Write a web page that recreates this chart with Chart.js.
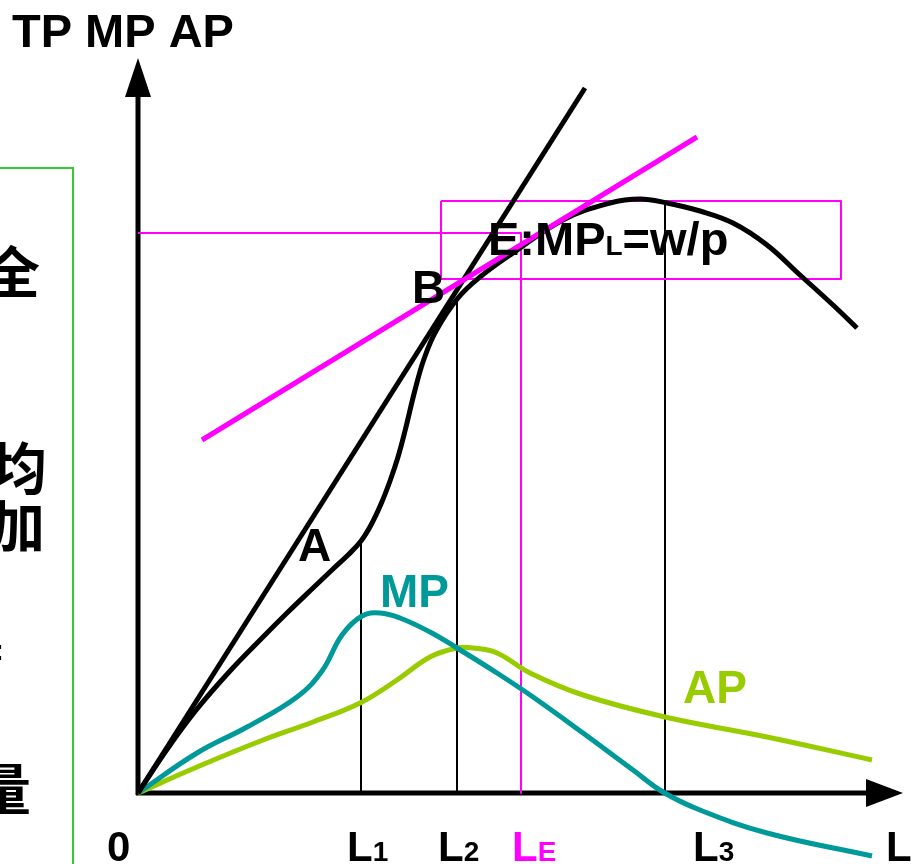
<!DOCTYPE html>
<html>
<head>
<meta charset="utf-8">
<script src="https://cdn.jsdelivr.net/npm/chart.js@4"></script>
<style>
    body { margin: 0; background: #fff; }
    #wrap { width: 911px; height: 864px; position: relative; }
</style>
</head>
<body>
<div id="wrap"><canvas id="productionChart"></canvas></div>
<script>
const tpCurve = [
    [0, 0], [30, 45], [59, 84], [92, 122], [125, 156], [150, 181], [175, 205],
    [195, 224], [210, 238], [223, 252], [233, 268], [243, 289], [252, 312],
    [260, 336], [267, 362], [277, 403], [286, 434], [298, 462], [320, 495],
    [342, 516], [375, 540], [425, 573], [472, 590], [502, 594], [529, 590],
    [562, 582], [595, 570], [629, 548], [662, 518], [695, 488], [719, 465]
];
const mpCurve = [
    [0, 0], [59, 40], [109, 66], [159, 96], [184, 122], [204, 158], [224, 177],
    [242, 180], [262, 175], [292, 161], [319, 145], [359, 120], [395, 96],
    [445, 60], [495, 23], [525, 1], [562, -17], [629, -40], [734, -63]
];
const apCurve = [
    [0, 0], [59, 26], [125, 53], [175, 71], [222, 90], [259, 113], [292, 136],
    [319, 145], [335, 145], [359, 140], [392, 120], [445, 98], [527, 76],
    [629, 56], [734, 33]
];
const rayLine = [[0, 0], [447, 705]];          // ray from origin touching TP at B
const wageLine = [[64, 353], [559, 656]];      // slope w/p, tangent to TP at E
const wageGuide = [[0, 560], [383, 560], [383, 0]];
const labelBox = [[303, 592], [703, 592], [703, 514], [303, 514], [303, 592]];

const L1 = 223, L2 = 319, L3 = 527;
const dropLines = [
    [[L1, 0], [L1, 252]],
    [[L2, 0], [L2, 495]],
    [[L3, 0], [L3, 590]]
];

const xMin = -138, xMax = 773, yMin = -71, yMax = 793;
const yAxisTop = 735, xAxisEnd = 765;

const TEAL = '#009999', LIME = '#99cc00', MAGENTA = '#ff00ff', BOX_GREEN = '#33cc33';
const LATIN = '"Liberation Sans", Arial, sans-serif';
const CJK = '"Noto Sans CJK SC", sans-serif';

// text runs: [text, font size]
const labels = [
    { x: -126, y: 746, color: '#000', runs: [['TP MP AP', 47]] },
    { x: 160, y: 232, color: '#000', runs: [['A', 46]] },
    { x: 242, y: 186, color: TEAL, runs: [['MP', 46]] },
    { x: 274, y: 490, color: '#000', runs: [['B', 46]] },
    { x: 350, y: 538, color: '#000', runs: [['E:MP', 47], ['L', 28], ['=w/p', 47]] },
    { x: 545, y: 90, color: LIME, runs: [['AP', 46]] },
    { x: -31, y: -68, color: '#000', runs: [['0', 42]] },
    { x: 209, y: -68, color: '#000', runs: [['L', 42], ['1', 28]] },
    { x: 300, y: -68, color: '#000', runs: [['L', 42], ['2', 28]] },
    { x: 374, y: -68, color: MAGENTA, runs: [['L', 42], ['E', 28]] },
    { x: 555, y: -68, color: '#000', runs: [['L', 42], ['3', 28]] },
    { x: 748, y: -68, color: '#000', runs: [['L', 42]] }
];

// cut-off text of the side panel: [char, right edge x, baseline y, size]
const sideText = [
    ['全', -98, 500, 56],
    ['均', -91, 304, 56],
    ['加', -93, 246, 56],
    [':', -134, 133, 30],
    ['量', -107, -17, 56]
];

function toPoints(arr) {
    return arr.map(p => ({ x: p[0], y: p[1] }));
}

function lineSet(points, color, width, smooth) {
    return {
        data: toPoints(points),
        showLine: true,
        borderColor: color,
        borderWidth: width,
        borderCapStyle: 'butt',
        borderJoinStyle: 'round',
        pointRadius: 0,
        fill: false,
        clip: false,
        tension: smooth ? 0.4 : 0
    };
}

const axesPlugin = {
    id: 'axes',
    beforeDatasetsDraw(chart) {
        const ctx = chart.ctx;
        const xs = chart.scales.x, ys = chart.scales.y;
        const ox = xs.getPixelForValue(0), oy = ys.getPixelForValue(0);
        const top = ys.getPixelForValue(yAxisTop);
        const right = xs.getPixelForValue(xAxisEnd);
        ctx.save();
        ctx.strokeStyle = '#000';
        ctx.fillStyle = '#000';
        ctx.lineWidth = 5;
        ctx.beginPath();
        ctx.moveTo(ox, oy + 2);
        ctx.lineTo(ox, top + 36);
        ctx.moveTo(ox - 2, oy);
        ctx.lineTo(right - 36, oy);
        ctx.stroke();
        ctx.beginPath();
        ctx.moveTo(ox, top);
        ctx.lineTo(ox - 13, top + 39);
        ctx.lineTo(ox + 13, top + 39);
        ctx.closePath();
        ctx.fill();
        ctx.beginPath();
        ctx.moveTo(right, oy);
        ctx.lineTo(right - 37, oy - 14);
        ctx.lineTo(right - 37, oy + 14);
        ctx.closePath();
        ctx.fill();

        // side panel frame
        const bx = xs.getPixelForValue(-65), by = ys.getPixelForValue(625);
        ctx.strokeStyle = BOX_GREEN;
        ctx.lineWidth = 2;
        ctx.beginPath();
        ctx.moveTo(0, by);
        ctx.lineTo(bx, by);
        ctx.lineTo(bx, chart.height + 2);
        ctx.stroke();
        ctx.fillStyle = '#000';
        ctx.textAlign = 'right';
        ctx.textBaseline = 'alphabetic';
        sideText.forEach(t => {
            ctx.font = (t[0] === ':' ? 'bold ' + t[3] + 'px ' + LATIN : 'bold ' + t[3] + 'px ' + CJK);
            ctx.fillText(t[0], xs.getPixelForValue(t[1]), ys.getPixelForValue(t[2]));
        });
        ctx.restore();
    },
    afterDatasetsDraw(chart) {
        const ctx = chart.ctx;
        const xs = chart.scales.x, ys = chart.scales.y;
        ctx.save();
        ctx.textAlign = 'left';
        ctx.textBaseline = 'alphabetic';
        labels.forEach(lab => {
            let px = xs.getPixelForValue(lab.x);
            const py = ys.getPixelForValue(lab.y);
            ctx.fillStyle = lab.color;
            lab.runs.forEach(r => {
                ctx.font = 'bold ' + r[1] + 'px ' + LATIN;
                ctx.fillText(r[0], px, py);
                px += ctx.measureText(r[0]).width;
            });
        });
        ctx.restore();
    }
};

const datasets = [
    lineSet(wageLine, MAGENTA, 5, false),
    lineSet(rayLine, '#000', 5, false),
    lineSet(tpCurve, '#000', 5, true),
    lineSet(mpCurve, TEAL, 5, true),
    lineSet(apCurve, LIME, 5, true),
    lineSet(labelBox, MAGENTA, 2, false),
    lineSet(wageGuide, MAGENTA, 2, false)
];
dropLines.forEach(d => datasets.push(lineSet(d, '#000', 2, false)));

const ctx = document.getElementById('productionChart').getContext('2d');
const productionChart = new Chart(ctx, {
    type: 'scatter',
    data: { datasets: datasets },
    options: {
        responsive: true,
        maintainAspectRatio: false,
        animation: false,
        devicePixelRatio: 1,
        layout: { padding: 0 },
        plugins: {
            legend: { display: false },
            tooltip: { enabled: false }
        },
        scales: {
            x: { type: 'linear', min: xMin, max: xMax, display: false },
            y: { type: 'linear', min: yMin, max: yMax, display: false }
        }
    },
    plugins: [axesPlugin]
});
</script>
</body>
</html>
